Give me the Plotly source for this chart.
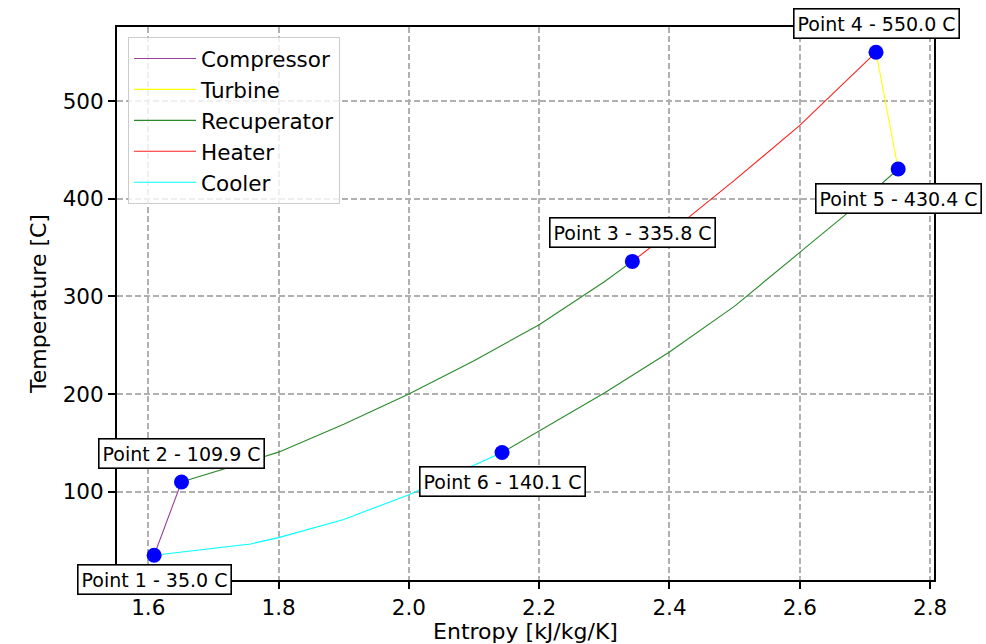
import plotly.graph_objects as go

# State points
point_s = [1.609, 1.651, 2.343, 2.717, 2.751, 2.143]
point_T = [35.0, 109.9, 335.8, 550.0, 430.4, 140.1]

# Process curves
comp_s = [1.609, 1.651]
comp_T = [35.0, 109.9]

turb_s = [2.717, 2.751]
turb_T = [550.0, 430.4]

recup_cold_s = [1.651, 1.7, 1.8, 1.9, 2.0, 2.1, 2.2, 2.3, 2.343]
recup_cold_T = [109.9, 120.0, 140.5, 169.0, 200.0, 234.0, 271.0, 315.0, 335.8]

recup_hot_s = [2.143, 2.2, 2.3, 2.4, 2.5, 2.6, 2.7, 2.751]
recup_hot_T = [140.1, 162.0, 201.0, 243.0, 290.0, 345.0, 400.0, 430.4]

heater_s = [2.343, 2.4, 2.5, 2.6, 2.7, 2.717]
heater_T = [335.8, 365.0, 419.0, 475.0, 539.0, 550.0]

cooler_s = [2.143, 2.1, 2.0, 1.9, 1.8, 1.757, 1.7, 1.609]
cooler_T = [140.1, 127.0, 97.0, 71.5, 53.0, 46.5, 42.0, 35.0]

label_shift = [-24, 29, 29, 29, -29, -29]

FONT = "DejaVu Sans"

fig = go.Figure()

def add_line(name, xs, ys, color):
    fig.add_trace(go.Scatter(x=xs, y=ys, mode="lines", name=name,
                             line=dict(color=color, width=1.1)))

add_line("Compressor", comp_s, comp_T, "#9a3f9a")
add_line("Turbine", turb_s, turb_T, "yellow")
add_line("Recuperator", recup_cold_s + [None] + recup_hot_s,
         recup_cold_T + [None] + recup_hot_T, "#2a8a2a")
add_line("Heater", heater_s, heater_T, "#ff2020")
add_line("Cooler", cooler_s, cooler_T, "cyan")

fig.add_trace(go.Scatter(x=point_s, y=point_T, mode="markers", showlegend=False,
                         marker=dict(color="blue", size=15, line=dict(width=0))))

for i, (s, T) in enumerate(zip(point_s, point_T)):
    fig.add_annotation(x=s, y=T, text=f"Point {i+1} - {T:.1f} C", showarrow=False,
                       yshift=label_shift[i], font=dict(family=FONT, size=19, color="black"),
                       bgcolor="white", bordercolor="black", borderwidth=1.6, borderpad=3)

axis_common = dict(showline=True, linecolor="black", linewidth=2, mirror=True,
                   ticks="outside", ticklen=7, tickwidth=1.5, tickcolor="black",
                   showgrid=True, gridcolor="#b0b0b0", griddash="6px,3px", gridwidth=1.5,
                   zeroline=False, automargin=False,
                   tickfont=dict(family=FONT, size=21.5, color="black"))

fig.update_xaxes(range=[1.552, 2.806], tickvals=[1.6, 1.8, 2.0, 2.2, 2.4, 2.6, 2.8],
                 tickformat=".1f",
                 title=dict(text="Entropy [kJ/kg/K]", font=dict(family=FONT, size=22, color="black"), standoff=2),
                 **axis_common)
fig.update_yaxes(range=[9.6, 575.8], tickvals=[100, 200, 300, 400, 500],
                 title=dict(text="Temperature [C]", font=dict(family=FONT, size=22, color="black"), standoff=10),
                 **axis_common)

fig.update_layout(
    width=986, height=644,
    margin=dict(l=117, r=52, t=27, b=64),
    plot_bgcolor="white", paper_bgcolor="white",
    font=dict(family=FONT, color="black"),
    legend=dict(x=0.0135, y=0.982, xanchor="left", yanchor="top",
                bgcolor="rgba(255,255,255,0.8)", bordercolor="#cccccc", borderwidth=1,
                font=dict(family=FONT, size=21.5, color="black"), itemwidth=62),
)

fig.write_html("out.html")
